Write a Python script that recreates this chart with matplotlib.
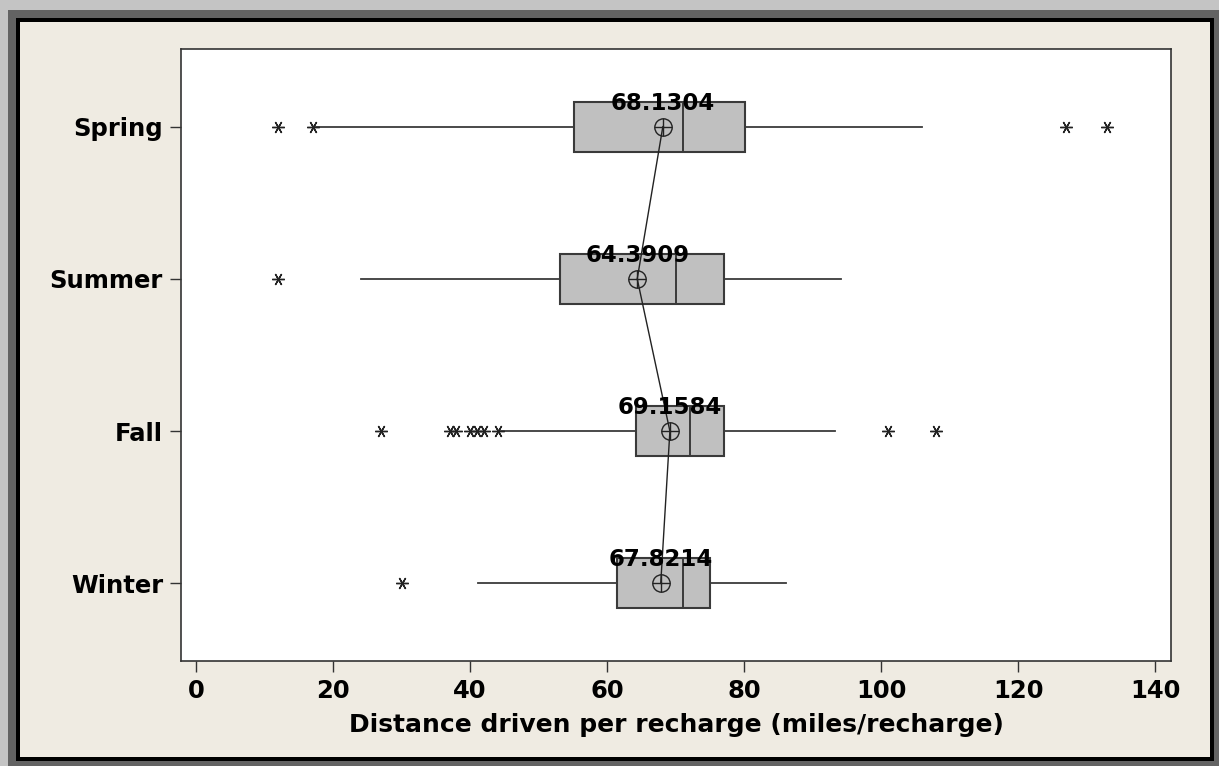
import matplotlib.pyplot as plt
from matplotlib.patches import Rectangle

seasons = ["Winter", "Fall", "Summer", "Spring"]
q1 = [61.4, 64.2, 53.1, 55.1]
medians = [71.1, 72.1, 70.1, 71.0]
q3 = [75.0, 77.0, 77.0, 80.1]
whisker_lo = [41.2, 44.5, 24.1, 17.5]
whisker_hi = [86.1, 93.2, 94.2, 106.0]
means = [67.8214, 69.1584, 64.3909, 68.1304]
outliers = [
    [30],
    [27, 37, 38, 40, 41, 42, 44, 101, 108],
    [12],
    [12, 17, 127, 133],
]
xticks = [0, 20, 40, 60, 80, 100, 120, 140]

W, H = 1219, 766
fig = plt.figure(figsize=(W / 100, H / 100), dpi=100, facecolor="#c4c4c4")


def frame_rect(x0, y0, x1, y1, color):
    # pixel box measured from top-left -> figure fraction
    fig.patches.append(Rectangle((x0 / W, 1 - y1 / H), (x1 - x0) / W, (y1 - y0) / H,
                                 transform=fig.transFigure, facecolor=color,
                                 edgecolor="none", zorder=-5))


# window-like border
frame_rect(8, 10, W, H, "#636363")
frame_rect(16, 18, 1214, 761, "black")
frame_rect(20, 22, 1210, 757, "#efebe2")

ax = fig.add_axes([181 / W, 1 - 661 / H, (1171 - 181) / W, (661 - 49) / H])
ax.set_facecolor("white")
ax.set_zorder(2)

stats = []
for i in range(len(seasons)):
    stats.append(dict(med=medians[i], q1=q1[i], q3=q3[i],
                      whislo=whisker_lo[i], whishi=whisker_hi[i],
                      fliers=outliers[i], mean=means[i], label=seasons[i]))

pos = list(range(1, len(seasons) + 1))
ax.bxp(stats, positions=pos, widths=0.33, orientation="horizontal",
       showcaps=False, showmeans=False, patch_artist=True,
       boxprops=dict(facecolor="#c0c0c0", edgecolor="#3a3a3a", linewidth=1.5),
       medianprops=dict(color="#3a3a3a", linewidth=1.4),
       whiskerprops=dict(color="#3a3a3a", linewidth=1.3),
       flierprops=dict(marker=(6, 2, 90), markersize=9, markeredgecolor="#222222",
                       markeredgewidth=1.0, linestyle="none"))

# mean connect line + mean symbols
ax.plot(means, pos, color="#222222", linewidth=1.0, zorder=4)
ax.plot(means, pos, "o", markersize=12.5, markerfacecolor="none",
        markeredgecolor="#222222", markeredgewidth=1.0, zorder=5)
ax.plot(means, pos, "+", markersize=12.5, color="#222222", markeredgewidth=1.0, zorder=5)

for m, p in zip(means, pos):
    ax.text(m, p + 0.155, f"{m:.4f}", ha="center", va="center",
            fontsize=16.5, fontweight="bold", color="black", zorder=6)

ax.set_xlim(-2.2, 142.3)
ax.set_ylim(0.49, 4.51)
ax.set_xticks(xticks)
ax.set_xticklabels([str(t) for t in xticks])
ax.set_yticks(pos)
ax.set_yticklabels(seasons)
ax.tick_params(axis="both", direction="out", length=8, width=1.0, color="#333333",
               labelsize=17.5, pad=5)
for lab in ax.get_xticklabels() + ax.get_yticklabels():
    lab.set_fontweight("bold")
ax.set_xlabel("Distance driven per recharge (miles/recharge)", fontsize=18,
              fontweight="bold", labelpad=7)
for sp in ax.spines.values():
    sp.set_color("#333333")
    sp.set_linewidth(1.2)

fig.savefig("out.png", dpi=100, facecolor=fig.get_facecolor())
